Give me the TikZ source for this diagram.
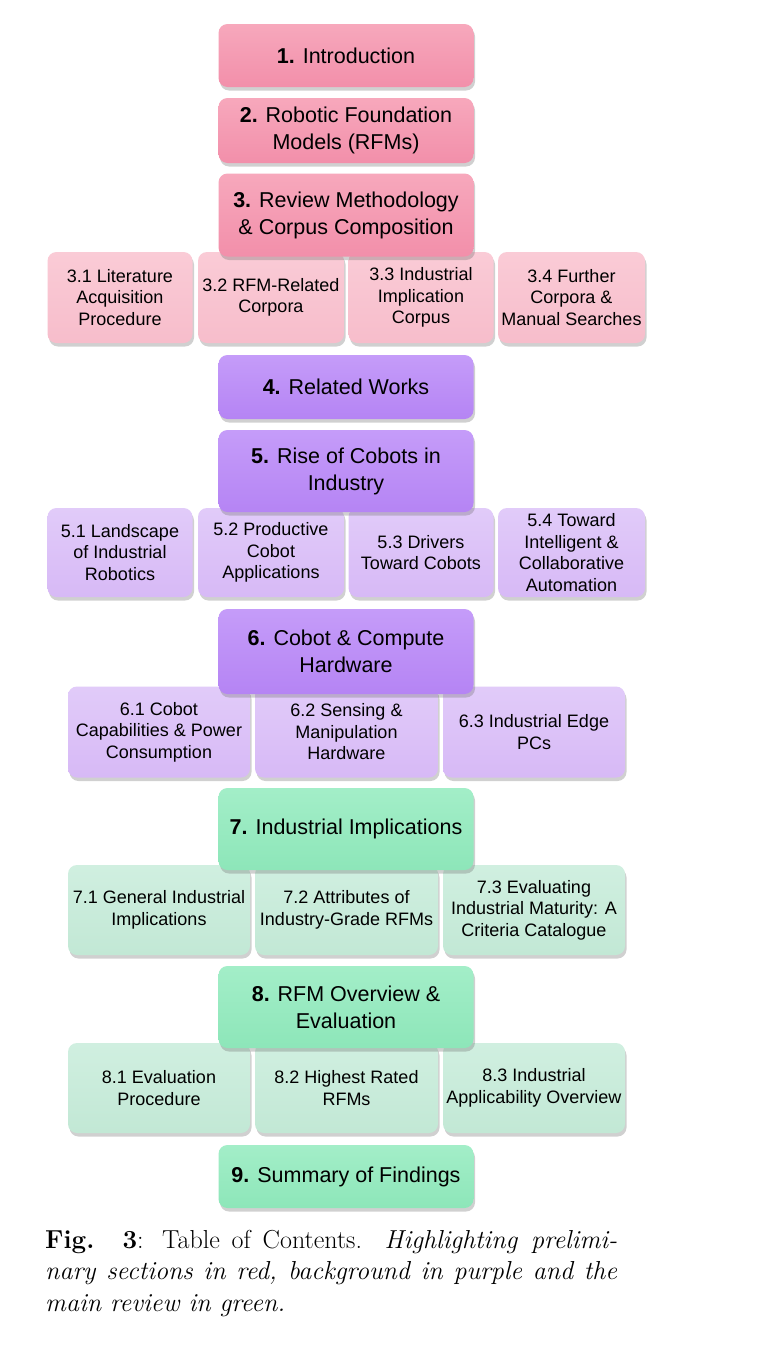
\documentclass[tikz,border=0pt]{standalone}
\usepackage{fontspec}
\newfontfamily\arialf{Liberation Sans}
\usetikzlibrary{shadows}
\definecolor{pinkA}{HTML}{F7A8BC}
\definecolor{pinkB}{HTML}{F28FAA}
\definecolor{pinkS}{HTML}{FACBD6}
\definecolor{pinkT}{HTML}{F7BDCB}
\definecolor{purA}{HTML}{C59CF9}
\definecolor{purB}{HTML}{B584F4}
\definecolor{purS}{HTML}{E1CBF9}
\definecolor{purT}{HTML}{D7B9F6}
\definecolor{grnA}{HTML}{A3EEC8}
\definecolor{grnB}{HTML}{8DE6B9}
\definecolor{grnS}{HTML}{D0EFE0}
\definecolor{grnT}{HTML}{C2E8D5}
\tikzset{
  boxbase/.style={rounded corners=9pt, inner sep=0pt, align=center,
    drop shadow={shadow xshift=1.5pt, shadow yshift=-3.5pt, opacity=0.3, fill=black!60},
    font=\arialf},
  mainbox/.style={boxbase, minimum width=255pt, font=\arialf\fontsize{21.5}{27}\selectfont},
  subbox/.style={boxbase, font=\arialf\fontsize{18}{21.5}\selectfont},
  mpink/.style={mainbox, top color=pinkA, bottom color=pinkB},
  spink/.style={subbox, top color=pinkS, bottom color=pinkT},
  mpur/.style={mainbox, top color=purA, bottom color=purB},
  spur/.style={subbox, top color=purS, bottom color=purT},
  mgrn/.style={mainbox, top color=grnA, bottom color=grnB},
  sgrn/.style={subbox, top color=grnS, bottom color=grnT},
  captext/.style={anchor=base west, inner sep=0pt, font=\fontsize{26}{31.5}\selectfont}
}
\begin{document}
\begin{tikzpicture}[x=1pt, y=-1pt]
\useasboundingbox (0,0) rectangle (782,1349);
\fill[white] (0,0) rectangle (782,1349);
% sub rows (drawn first)
\node[spink, minimum width=145pt, minimum height=91pt] (s31) at (120,297.5) {3.1 Literature\\Acquisition\\Procedure};
\node[spink, minimum width=146pt, minimum height=91pt] (s32) at (271,297.5) {3.2 RFM-Related\\Corpora};
\node[spink, minimum width=145pt, minimum height=91pt] (s33) at (421,297.5) {3.3 Industrial\\Implication\\Corpus};
\node[spink, minimum width=147pt, minimum height=91pt] (s34) at (571.5,297.5) {3.4 Further\\Corpora \&\\Manual Searches};
\node[spur, minimum width=145pt, minimum height=89pt] (s51) at (120,552.5) {5.1 Landscape\\of Industrial\\Robotics};
\node[spur, minimum width=146pt, minimum height=89pt] (s52) at (271,552.5) {5.2 Productive\\Cobot\\Applications};
\node[spur, minimum width=145pt, minimum height=89pt] (s53) at (421,552.5) {5.3 Drivers\\Toward Cobots};
\node[spur, minimum width=147pt, minimum height=89pt] (s54) at (571.5,552.5) {5.4 Toward\\Intelligent \&\\Collaborative\\Automation};
\node[spur, minimum width=182pt, minimum height=91pt] (s61) at (159,732) {6.1 Cobot\\Capabilities \& Power\\Consumption};
\node[spur, minimum width=183pt, minimum height=91pt] (s62) at (346.5,732) {6.2 Sensing \&\\Manipulation\\Hardware};
\node[spur, minimum width=182pt, minimum height=91pt] (s63) at (534,732) {6.3 Industrial Edge\\PCs};
\node[sgrn, minimum width=182pt, minimum height=90pt] (s71) at (159,910) {7.1 General Industrial\\Implications};
\node[sgrn, minimum width=183pt, minimum height=90pt] (s72) at (346.5,910) {7.2 Attributes of\\Industry-Grade RFMs};
\node[sgrn, minimum width=182pt, minimum height=90pt] (s73) at (534,910) {7.3 Evaluating\\Industrial Maturity: A\\Criteria Catalogue};
\node[sgrn, minimum width=182pt, minimum height=90pt] (s81) at (159,1088) {8.1 Evaluation\\Procedure};
\node[sgrn, minimum width=183pt, minimum height=90pt] (s82) at (346.5,1088) {8.2 Highest Rated\\RFMs};
\node[sgrn, minimum width=182pt, minimum height=90pt] (s83) at (534,1088) {8.3 Industrial\\Applicability Overview};
% main boxes
\node[mpink, minimum height=63pt] (m1) at (346,55.5) {\textbf{1.} Introduction};
\node[mpink, minimum height=65pt] (m2) at (346,130.5) {\textbf{2.} Robotic Foundation\\Models (RFMs)};
\node[mpink, minimum height=83pt] (m3) at (346,215) {\textbf{3.} Review Methodology\\\& Corpus Composition};
\node[mpur, minimum height=64pt] (m4) at (346,387) {\textbf{4.} Related Works};
\node[mpur, minimum height=82pt] (m5) at (346,471) {\textbf{5.} Rise of Cobots in\\Industry};
\node[mpur, minimum height=85pt] (m6) at (346,651.5) {\textbf{6.} Cobot \& Compute\\Hardware};
\node[mgrn, minimum height=82pt] (m7) at (346,829) {\textbf{7.} Industrial Implications};
\node[mgrn, minimum height=82pt] (m8) at (346,1007) {\textbf{8.} RFM Overview \&\\Evaluation};
\node[mgrn, minimum height=63pt] (m9) at (346,1176.5) {\textbf{9.} Summary of Findings};
% caption
\node[captext] (c1) at (45,1248) {\makebox[572pt][s]{\textbf{Fig. 3}: Table of Contents. \textit{Highlighting prelimi-}}};
\node[captext] (c2) at (45,1279.5) {\makebox[572pt][s]{\textit{nary sections in red, background in purple and the}}};
\node[captext] (c3) at (45,1311) {\textit{main review in green.}};
\end{tikzpicture}
\end{document}
